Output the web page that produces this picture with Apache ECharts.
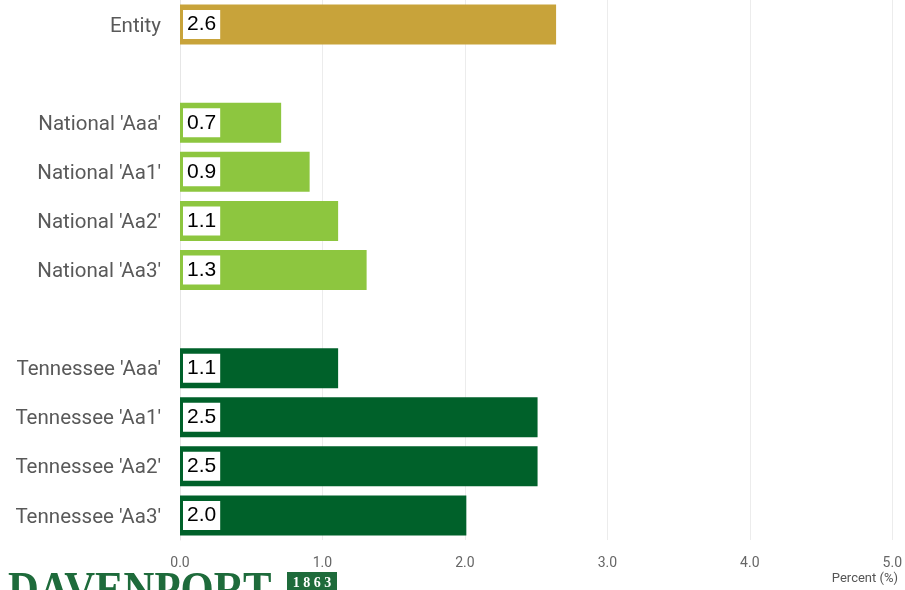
<!DOCTYPE html>
<html>
<head>
<meta charset="utf-8">
<script src="https://cdn.jsdelivr.net/npm/echarts@6/dist/echarts.min.js"></script>
<style>html,body{margin:0;padding:0;background:#fff}#c{width:905px;height:590px}</style>
</head>
<body>
<div id="c"></div>
<script>
var categories = ["Entity", "", "National 'Aaa'", "National 'Aa1'", "National 'Aa2'", "National 'Aa3'", " ", "Tennessee 'Aaa'", "Tennessee 'Aa1'", "Tennessee 'Aa2'", "Tennessee 'Aa3'"];
var values = [2.64, null, 0.71, 0.91, 1.11, 1.31, null, 1.11, 2.51, 2.51, 2.01];
var groups = ["entity", null, "national", "national", "national", "national", null, "tennessee", "tennessee", "tennessee", "tennessee"];
var xTicks = [0, 1, 2, 3, 4, 5];
var groupColors = { entity: "#C8A33A", national: "#8DC63F", tennessee: "#00612A" };

var chart = echarts.init(document.getElementById('c'));
var data = values.map(function (v, i) {
  return v === null ? '-' : { value: v, itemStyle: { color: groupColors[groups[i]] } };
});
chart.setOption({
  animation: false,
  grid: { left: 180, right: 12, top: 0, height: 540 },
  xAxis: {
    type: 'value', min: xTicks[0], max: xTicks[xTicks.length - 1], interval: 1,
    axisLine: { show: false }, axisTick: { show: false },
    splitLine: { lineStyle: { color: '#ececec', width: 1 } },
    axisLabel: { color: '#666', fontSize: 14, margin: 16, fontFamily: 'Roboto',
      formatter: function (v) { return v.toFixed(1); } }
  },
  yAxis: {
    type: 'category', data: categories, inverse: true,
    axisLine: { show: true, lineStyle: { color: '#e6e6e6' } },
    axisTick: { show: false },
    axisLabel: { color: '#595959', fontSize: 20.5, margin: 19, fontFamily: 'Roboto',
      formatter: function (v) { return '{a|' + v + '}'; },
      rich: { a: { fontSize: 20.5, fontFamily: 'Roboto', color: '#595959', padding: [4, 0, 0, 0] } } }
  },
  series: [{
    type: 'bar', data: data, barWidth: 40,
    label: {
      show: true, position: 'insideLeft', distance: 3,
      backgroundColor: '#fff', color: '#000', fontSize: 21, fontFamily: 'Liberation Sans',
      padding: [5, 4, 3, 4],
      formatter: function (p) { return p.value.toFixed(1); }
    }
  }],
  graphic: [
    { type: 'text', x: 8, y: 569, scaleX: 0.89, style: { text: 'DAVENPORT', font: 'bold 48px "Liberation Serif"', fill: '#1E6B3B', textVerticalAlign: 'top' } },
    { type: 'rect', shape: { x: 287, y: 572, width: 50, height: 22 }, style: { fill: '#1E6B3B' } },
    { type: 'text', x: 312, y: 576, style: { text: '1 8 6 3', font: 'bold 14px "Liberation Serif"', fill: '#fff', textAlign: 'center', textVerticalAlign: 'top' } },
    { type: 'text', right: 7, top: 572, style: { text: 'Percent (%)', font: '13px Roboto', fill: '#555' } }
  ]
});
</script>
</body>
</html>
